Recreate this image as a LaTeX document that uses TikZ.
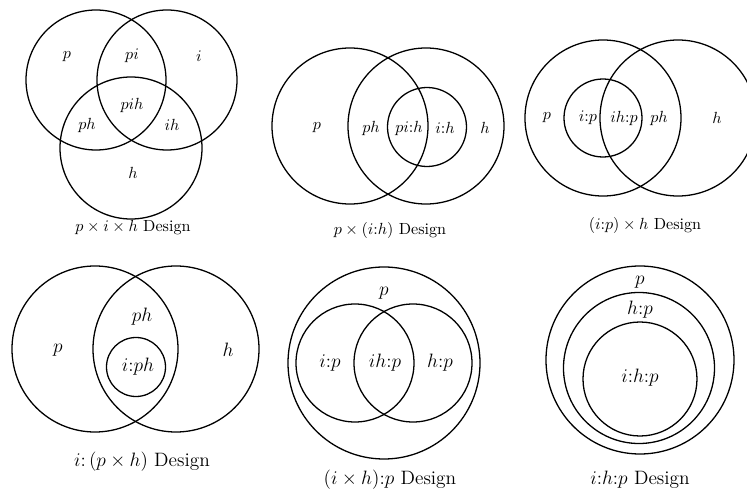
\documentclass[tikz,border=0pt]{standalone}
\begin{document}
\begin{tikzpicture}[x=0.62pt,y=-0.62pt,
  ring/.style={circle,draw,line width=0.8pt,minimum size=#1*1.24pt,inner sep=0pt},
  lab/.style={inner sep=1pt,font=\normalsize},
  labb/.style={inner sep=1pt,font=\large},
  captext/.style={inner sep=1pt,font=\normalsize},
  captextb/.style={inner sep=1pt,font=\large}]
\useasboundingbox (0,0) rectangle (747,499);
% Panel 1: p x i x h
\node[ring=70] (a1) at (96,80) {};
\node[ring=70] (a2) at (167,80) {};
\node[ring=71] (a3) at (131,148) {};
\node[lab] (ap) at (67,57) {$p$};
\node[lab] (api) at (132,56) {$pi$};
\node[lab] (ai) at (199,56) {$i$};
\node[lab] (apih) at (132,105) {$pih$};
\node[lab] (aph) at (87,125) {$ph$};
\node[lab] (aih) at (172,125) {$ih$};
\node[lab] (ah) at (133,173) {$h$};
\node[captext] (acap) at (133,228) {$p\times i\times h$ Design};
% Panel 2: p x (i:h)
\node[ring=78] (b1) at (350,126) {};
\node[ring=78] (b2) at (426,126) {};
\node[ring=39.5] (b3) at (427,127) {};
\node[lab] (bp) at (317,128) {$p$};
\node[lab] (bph) at (371,128) {$ph$};
\node[lab] (bpih) at (409,128) {$pi{:}h$};
\node[lab] (bih) at (445,128) {$i{:}h$};
\node[lab] (bh) at (485,128) {$h$};
\node[captext] (bcap) at (390,230) {$p\times(i{:}h)$ Design};
% Panel 3: (i:p) x h
\node[ring=78] (c1) at (603,118) {};
\node[ring=78] (c2) at (678,118) {};
\node[ring=39] (c3) at (603,118) {};
\node[lab] (cp) at (547,118) {$p$};
\node[lab] (cip) at (588,118) {$i{:}p$};
\node[lab] (cihp) at (624,118) {$ih{:}p$};
\node[lab] (cph) at (659,118) {$ph$};
\node[lab] (ch) at (717,118) {$h$};
\node[captext] (ccap) at (645,225) {$(i{:}p)\times h$ Design};
% Panel 4: i:(p x h)
\node[ring=83] (d1) at (95,349) {};
\node[ring=83] (d2) at (176,349) {};
\node[ring=29.5] (d3) at (136,367) {};
\node[labb] (dp) at (58,350) {$p$};
\node[labb] (dph) at (142,317) {$ph$};
\node[labb] (diph) at (138,367) {$i{:}ph$};
\node[labb] (dh) at (228,350) {$h$};
\node[captextb] (dcap) at (142,462) {$i{:}\,(p\times h)$ Design};
% Panel 5: (i x h):p
\node[ring=96] (e1) at (384,363) {};
\node[ring=59] (e2) at (355,363) {};
\node[ring=59] (e3) at (413,363) {};
\node[labb] (ep) at (384,293) {$p$};
\node[labb] (eip) at (330,363) {$i{:}p$};
\node[labb] (eihp) at (385,363) {$ih{:}p$};
\node[labb] (ehp) at (440,363) {$h{:}p$};
\node[captextb] (ecap) at (390,480) {$(i\times h){:}p$ Design};
% Panel 6: i:h:p
\node[ring=94] (f1) at (640,360) {};
\node[ring=75.5] (f2) at (639,368) {};
\node[ring=57] (f3) at (640,379) {};
\node[labb] (fp) at (640,282) {$p$};
\node[labb] (fhp) at (640,310) {$h{:}p$};
\node[labb] (fihp) at (640,378) {$i{:}h{:}p$};
\node[captextb] (fcap) at (640,480) {$i{:}h{:}p$ Design};
\end{tikzpicture}
\end{document}
